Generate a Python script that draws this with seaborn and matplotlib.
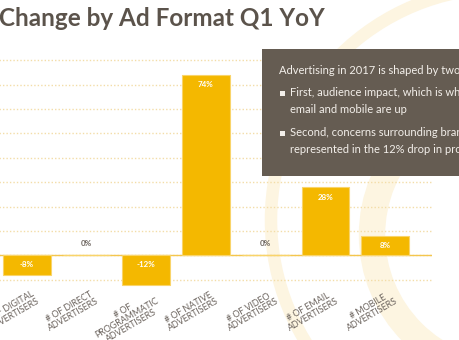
import matplotlib
matplotlib.use("Agg")
import matplotlib.pyplot as plt
from matplotlib.patches import Rectangle, Circle
from matplotlib.transforms import ScaledTranslation
import seaborn as sns
import pandas as pd

# Year-over-year change in advertiser counts, by ad format
categories = [
    "# OF DIGITAL\nADVERTISERS",
    "# OF DIRECT\nADVERTISERS",
    "# OF\nPROGRAMMATIC\nADVERTISERS",
    "# OF NATIVE\nADVERTISERS",
    "# OF VIDEO\nADVERTISERS",
    "# OF EMAIL\nADVERTISERS",
    "# MOBILE\nADVERTISERS",
]
change_pct = [-8, 0, -12, 74, 0, 28, 8]

title = "Change by Ad Format Q1 YoY"
note_intro = "Advertising in 2017 is shaped by two factors:"
note_bullets = [
    "First, audience impact, which is why native,\nemail and mobile are up",
    "Second, concerns surrounding brand safety,\nrepresented in the 12% drop in programmatic",
]

BAR = "#F4B800"
BAR_EDGE = "#F9D46A"
GRID = "#F3DDA8"
ZERO = "#F4C64E"
TEXT_GRAY = "#6A625C"
TITLE_C = "#5B534B"
BOX = "#655C52"
SWIRL = "#FDF5E1"

sns.set_style("white")
plt.rcParams["font.family"] = ["Lato", "DejaVu Sans"]

W, H = 460, 340
fig = plt.figure(figsize=(W / 100, H / 100), dpi=100)
fig.patch.set_facecolor("white")

# decorative swirl in the background (pixel coordinates)
bg = fig.add_axes([0, 0, 1, 1], zorder=0)
bg.set_xlim(0, W)
bg.set_ylim(H, 0)
bg.axis("off")
bg.add_patch(Circle((503, 220), 232, fill=False, ec=SWIRL, lw=9))
bg.add_patch(Circle((510, 235), 138, fill=False, ec=SWIRL, lw=19))

# main bar chart
ax = fig.add_axes([-20 / W, 53 / H, 452 / W, 234 / H], zorder=1)
ax.set_facecolor("none")
df = pd.DataFrame({"format": categories, "change": change_pct})
sns.barplot(data=df, x="format", y="change", color=BAR, width=0.8,
            saturation=1, edgecolor=BAR_EDGE, linewidth=0.8, ax=ax, zorder=3)

ax.set_xlim(-0.78, 6.78)
ax.set_ylim(-13, 83)
ax.set_yticks(range(-10, 90, 10))
ax.set_yticklabels([])
ax.yaxis.grid(True, linestyle=(0, (1, 1.5)), color=GRID, lw=1.0, zorder=0)
ax.xaxis.grid(False)
ax.axhline(0, color=ZERO, lw=1.0, zorder=2)
for s in ax.spines.values():
    s.set_visible(False)
ax.set_xlabel("")
ax.set_ylabel("")
ax.tick_params(axis="both", length=0)
ax.tick_params(axis="x", pad=1.5)
ax.set_xticks(range(len(categories)))
ax.set_xticklabels(categories, rotation=30, ha="right", rotation_mode="anchor",
                   multialignment="center", fontsize=6.4, color=TEXT_GRAY,
                   linespacing=0.92)
shift = ScaledTranslation(4 / 72, 0, fig.dpi_scale_trans)
for lbl in ax.get_xticklabels():
    lbl.set_transform(lbl.get_transform() + shift)

# value labels
for i, v in enumerate(change_pct):
    label = f"{v}%"
    if v > 0:
        ax.annotate(label, (i, v), xytext=(0, -7.2), textcoords="offset points",
                    ha="center", va="center", color="white", fontsize=5.8,
                    fontweight="bold", zorder=5)
    elif v < 0:
        ax.annotate(label, (i, 0), xytext=(0, -6.9), textcoords="offset points",
                    ha="center", va="center", color="white", fontsize=5.8,
                    fontweight="bold", zorder=5)
    else:
        ax.annotate(label, (i, 0), xytext=(0, 8.4), textcoords="offset points",
                    ha="center", va="center", color=TEXT_GRAY, fontsize=5.8,
                    fontweight="bold", zorder=5)

# title and commentary box (pixel coordinates)
ov = fig.add_axes([0, 0, 1, 1], zorder=3)
ov.set_xlim(0, W)
ov.set_ylim(H, 0)
ov.axis("off")
ov.set_facecolor("none")
ov.text(-1, 18, title, fontsize=17.5, fontweight="bold", color=TITLE_C,
        ha="left", va="center")
ov.add_patch(Rectangle((262, 49), 240, 127, facecolor=BOX, edgecolor="none"))
note_c = "#F3EFEA"
ov.text(279, 71, note_intro, fontsize=8, color=note_c, ha="left", va="center")
ys = [93, 133]
for y, b in zip(ys, note_bullets):
    ov.add_patch(Rectangle((280, y - 2.5), 5, 5, facecolor=note_c, edgecolor="none"))
    ov.text(290, y - 6, b, fontsize=8, color=note_c, ha="left", va="top",
            linespacing=1.7)

fig.savefig("out.png", dpi=100, facecolor="white")
